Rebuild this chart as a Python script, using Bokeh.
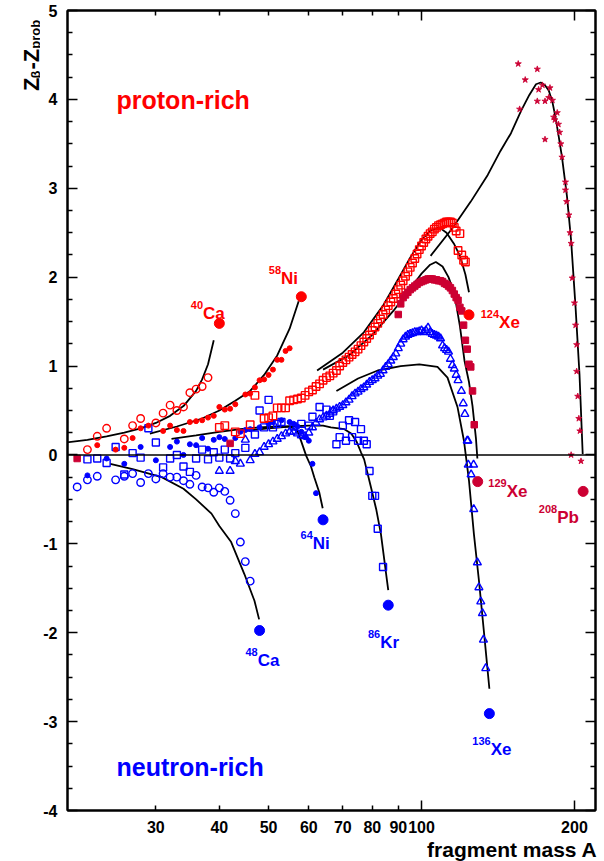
import math
from bokeh.plotting import figure
from bokeh.layouts import row
from bokeh.models import Range1d, LogAxis, LinearAxis, FixedTicker, Span, Title
from bokeh.embed import file_html
from bokeh.resources import INLINE
from bokeh.core.properties import value

RED = "#ff0000"
BLUE = "#0000ff"
CRIM = "#cc0033"
FONT = "Liberation Sans"

# ---------------- data: Z_beta - Z_prob versus fragment mass A ----------------
# 40Ca (open red circles)
ca40_A = [22, 23, 24, 26, 27, 28, 30, 31, 32, 33, 34, 35, 36, 37, 38]
ca40_dz = [0.06, 0.21, 0.30, 0.18, 0.33, 0.41, 0.36, 0.47, 0.56, 0.50, 0.54, 0.70, 0.74, 0.77, 0.87]

# 48Ca (open blue circles)
ca48_A = [21, 22, 23, 25, 26, 27, 28, 29, 30, 31, 32, 33, 34, 35, 36, 37, 38, 39, 40, 41, 42, 43, 44, 45, 46]
ca48_dz = [-0.36, -0.28, -0.24, -0.28, -0.24, -0.21, -0.31, -0.21, -0.27, -0.21, -0.25, -0.25, -0.29,
           -0.33, -0.23, -0.36, -0.37, -0.42, -0.37, -0.41, -0.51, -0.66, -0.98, -1.20, -1.42]

# 58Ni (small filled red circles)
ni58_A = [23, 25, 26, 27, 28, 29, 31, 32, 33, 34, 35, 36, 37, 38, 39, 40, 41, 42, 43, 45, 46, 47, 48,
          49, 50, 51, 52, 53, 54, 55]
ni58_dz = [0.11, 0.06, 0.08, 0.19, 0.30, 0.33, 0.27, 0.33, 0.28, 0.27, 0.37, 0.38, 0.39, 0.42, 0.44,
           0.54, 0.51, 0.52, 0.57, 0.68, 0.69, 0.76, 0.84, 0.85, 0.90, 0.96, 1.07, 1.07, 1.17, 1.20]

# 64Ni (small filled blue circles)
ni64_A = [22, 24, 26, 28, 30, 32, 33, 34, 35, 36, 37, 38, 39, 40, 41, 43, 44, 45, 46, 48, 50, 51, 53,
          55, 56, 57, 58, 59, 60, 61, 62]
ni64_dz = [-0.23, -0.04, -0.10, 0.09, -0.06, 0.09, 0.15, 0.00, 0.12, 0.11, 0.19, 0.07, 0.17, 0.20,
           0.18, 0.19, 0.26, 0.28, 0.29, 0.31, 0.35, 0.37, 0.39, 0.37, 0.35, 0.32, 0.26, 0.20, 0.16,
           -0.10, -0.43]

# 86Kr (open blue squares)
kr86_A = [22, 23, 24, 25, 26, 27, 28, 29, 30, 31, 32, 33, 34, 35, 36, 37, 38, 39, 40, 41, 42, 43, 45,
          47, 48, 49, 50, 51, 52, 53, 56, 58, 60, 61, 63, 65, 66, 67, 68, 69, 70, 71, 72, 73, 74, 75,
          76, 77, 78, 79, 80, 81, 82, 84]
kr86_dz = [-0.05, -0.04, -0.09, 0.09, -0.22, 0.02, -0.03, 0.30, 0.14, -0.14, -0.04, 0.00, -0.13,
           -0.19, -0.04, 0.06, -0.05, 0.03, -0.03, 0.06, -0.04, 0.02, 0.08, 0.23, 0.50, 0.31, 0.62,
           0.31, 0.35, 0.37, 0.32, 0.35, 0.33, 0.43, 0.54, 0.51, 0.44, 0.49, 0.12, 0.20, 0.33, 0.16,
           0.39, 0.20, 0.37, 0.16, 0.29, 0.16, 0.12, -0.18, -0.46, -0.46, -0.83, -1.26]

# 124Xe (open red squares)
xe124_A = [40, 41, 43, 44, 46, 47] + list(range(49, 123))
xe124_dz = [0.31, 0.33, 0.26, 0.24, 0.34, 0.67,
            0.41, 0.42, 0.44, 0.53, 0.53, 0.53, 0.61, 0.62, 0.63, 0.64, 0.67, 0.71, 0.73, 0.77,
            0.80, 0.84, 0.87, 0.89, 0.92, 0.95, 1.00, 1.04, 1.07, 1.10, 1.13, 1.16, 1.19, 1.23,
            1.27, 1.31, 1.35, 1.40, 1.44, 1.48, 1.53, 1.58, 1.63, 1.68, 1.72, 1.76, 1.81, 1.86,
            1.91, 1.96, 2.01, 2.06, 2.11, 2.16, 2.21, 2.26, 2.31, 2.35, 2.39, 2.43, 2.46, 2.49,
            2.51, 2.54, 2.56, 2.58, 2.59, 2.60, 2.61, 2.62, 2.62, 2.62, 2.61, 2.56, 2.52, 2.30,
            2.49, 2.25, 2.19, 2.17]

# 129Xe (filled crimson squares)
xe129_A = [21, 42] + list(range(90, 128))
xe129_dz = [-0.04, 0.13,
            1.58, 1.70, 1.77, 1.80, 1.83, 1.86, 1.88, 1.90, 1.92, 1.94, 1.95, 1.96, 1.97, 1.98,
            1.98, 1.98, 1.97, 1.97, 1.96, 1.96, 1.95, 1.93, 1.92, 1.90, 1.88, 1.85, 1.81, 1.77,
            1.74, 1.66, 1.62, 1.46, 1.29, 1.19, 1.02, 0.99, 0.72, 0.34]

# 136Xe (open blue triangles)
xe136_A = [40, 42, 43, 44, 45, 46, 47, 48, 49, 50, 51, 52, 53, 54, 55, 56, 57, 58, 59, 60, 61, 62,
           63, 64, 65, 66, 67, 68, 69, 70, 71, 72, 73, 74, 75, 76, 77, 78, 79, 80, 81, 82, 83, 84,
           85, 86, 87, 88, 89, 90, 91, 92, 93, 94, 95, 96, 97, 98, 99, 100, 101, 102, 103, 104,
           105, 106, 107, 108, 109, 110, 111, 112, 113, 114, 115, 116, 117, 118,
           119.8, 120.8, 121.7, 123.0, 123.4, 123.6, 126.6, 125.2, 126.7, 128.8, 129.7, 130.8,
           131.8, 132.4, 133.8]
xe136_dz = [-0.18, -0.18, -0.07, -0.10, 0.17, -0.06, 0.01, 0.03, 0.09, 0.12, 0.15, 0.18, 0.21,
            0.24, 0.26, 0.26, 0.24, 0.22, 0.21, 0.25, 0.31, 0.36, 0.40, 0.42, 0.44, 0.46, 0.50,
            0.52, 0.54, 0.56, 0.59, 0.62, 0.66, 0.69, 0.71, 0.74, 0.76, 0.79, 0.82, 0.84, 0.86,
            0.89, 0.91, 0.95, 0.99, 1.02, 1.06, 1.10, 1.14, 1.20, 1.25, 1.30, 1.33, 1.35, 1.36,
            1.37, 1.38, 1.38, 1.39, 1.40, 1.38, 1.40, 1.43, 1.38, 1.36, 1.35, 1.34, 1.33, 1.31,
            1.23, 1.20, 1.18, 1.16, 1.08, 1.01, 0.97, 0.90, 0.84,
            0.72, 0.58, 0.46, 0.16, 0.16, -0.11, -0.11, -0.22, -0.61, -1.21, -1.49, -1.65,
            -1.78, -2.08, -2.40]

# 208Pb (crimson stars)
pb208_A = [155, 169, 160, 156, 170, 173, 179, 169, 175, 178, 181, 175, 182, 183, 185, 186, 187,
           188, 189, 192, 192, 193, 195, 196, 197, 198, 200, 201, 202, 202, 203, 204, 205, 197, 206]
pb208_dz = [4.40, 4.34, 4.22, 3.89, 4.11, 4.16, 4.13, 3.98, 3.98, 4.02, 3.99, 3.55, 3.80, 3.77,
            3.85, 3.72, 3.63, 3.50, 3.35, 3.07, 2.98, 2.85, 2.70, 2.50, 2.38, 1.99, 1.71, 1.46,
            1.24, 0.94, 0.66, 0.41, 0.27, 0.00, -0.07]

# model curves (black lines)
c_ca40_A = [20, 22, 24, 26, 28, 30, 32, 34, 36, 37, 38, 39]
c_ca40_dz = [0.14, 0.17, 0.21, 0.25, 0.30, 0.36, 0.44, 0.55, 0.72, 0.85, 1.02, 1.29]
c_ni58_A = [29.2, 33, 37, 40, 43, 46, 49, 52, 55, 57.3]
c_ni58_dz = [0.24, 0.32, 0.41, 0.50, 0.61, 0.72, 0.90, 1.12, 1.42, 1.73]
c_ca48_A = [24.4, 27, 30.8, 34, 36, 38.6, 40, 42.2, 44.8, 46.9, 47.9]
c_ca48_dz = [-0.10, -0.16, -0.25, -0.38, -0.50, -0.66, -0.80, -0.98, -1.34, -1.64, -1.85]
c_ni64_A = [32.2, 36, 40, 44, 48, 52, 55, 57, 58, 59.3, 60.6, 61.5, 62.9, 63.9]
c_ni64_dz = [0.18, 0.22, 0.26, 0.29, 0.31, 0.32, 0.32, 0.27, 0.15, -0.01, -0.13, -0.25, -0.42, -0.60]
c_kr86_A = [45, 50, 55, 60, 64, 66.3, 70.5, 72.7, 74.5, 76, 77.1, 79.5, 81.5, 83.2, 85.5, 86]
c_kr86_dz = [0.27, 0.30, 0.32, 0.33, 0.33, 0.31, 0.29, 0.24, 0.15, 0.03, -0.05, -0.36, -0.62,
             -0.89, -1.41, -1.52]
c_xe124_A = [62.3, 70, 77, 84, 90, 95, 100, 104, 108.3, 112, 116, 119, 122, 124]
c_xe124_dz = [0.95, 1.15, 1.38, 1.68, 1.98, 2.22, 2.42, 2.52, 2.56, 2.50, 2.37, 2.24, 2.03, 1.83]
c_xe129_A = [64, 72, 80, 88, 95, 100, 104, 106.7, 110, 113, 116, 119, 121.5, 124, 126, 128, 128.8]
c_xe129_dz = [0.96, 1.12, 1.35, 1.62, 1.87, 2.04, 2.14, 2.17, 2.12, 2.00, 1.82, 1.45, 1.06, 0.82,
              0.55, 0.18, -0.04]
c_xe136_A = [68, 75, 82, 91, 99, 107.5, 112.5, 117.7, 121.2, 124, 126.8, 129.7, 133, 136]
c_xe136_dz = [0.72, 0.86, 0.95, 1.00, 1.02, 0.99, 0.87, 0.54, 0.16, -0.29, -0.89, -1.41, -2.05, -2.63]
c_pb208_A = [104.2, 115, 125, 135, 143, 150, 157, 163, 168, 171.6, 175, 178, 181, 183.5, 186, 189,
             193.4, 197, 201, 204.6, 207.6]
c_pb208_dz = [2.24, 2.55, 2.85, 3.15, 3.42, 3.62, 3.87, 4.05, 4.17, 4.19, 4.16, 4.10, 3.97, 3.80,
              3.60, 3.35, 2.90, 2.41, 1.66, 0.91, 0.01]

# projectiles (big dots) and their labels
proj_A = [40, 58, 124, 129, 208, 64, 48, 86, 136]
proj_dz = [1.48, 1.78, 1.576, -0.30, -0.41, -0.73, -1.975, -1.69, -2.91]
proj_mass = ["40", "58", "124", "129", "208", "64", "48", "86", "136"]
proj_elem = ["Ca", "Ni", "Xe", "Xe", "Pb", "Ni", "Ca", "Kr", "Xe"]
proj_color = [RED, RED, RED, CRIM, CRIM, BLUE, BLUE, BLUE, BLUE]
lab_A = [37.15, 52.9, 142.1, 147.1, 184.9, 61.1, 47.6, 82.9, 136.8]
lab_dz = [1.59, 1.99, 1.49, -0.41, -0.70, -1.00, -2.31, -2.11, -3.31]

x_labels = [30, 40, 50, 60, 70, 80, 90, 100, 200]
x_major = [100, 200]
x_minor = [30, 40, 50, 60, 70, 80, 90]
y_ticks = [-4, -3, -2, -1, 0, 1, 2, 3, 4, 5]
y_minor = [v / 4 for v in range(-16, 21) if v % 4 != 0]

# ---------------- main figure ----------------
LEFT_W = 40
H = 861
p = figure(width=604 - LEFT_W, height=H, x_axis_type="log",
           x_range=Range1d(20.1, 220), y_range=Range1d(-4, 5),
           output_backend="svg", toolbar_location=None,
           min_border_left=66 - LEFT_W, min_border_right=9, min_border_top=10,
           min_border_bottom=H - 810)
p.xgrid.visible = False
p.ygrid.visible = False
p.outline_line_color = "black"
p.outline_line_width = 2
p.background_fill_color = "white"
p.border_fill_color = "white"


def tick_axis(ax, major, minor, major_len, minor_len):
    ax.ticker = FixedTicker(ticks=major, minor_ticks=minor)
    ax.axis_line_width = 2
    ax.axis_line_color = "black"
    ax.major_tick_in = major_len
    ax.major_tick_out = 0
    ax.minor_tick_in = minor_len
    ax.minor_tick_out = 0
    ax.major_tick_line_width = 1.5
    ax.minor_tick_line_width = 1.5
    ax.major_label_text_color = None
    ax.major_label_text_font_size = "1px"
    ax.major_label_standoff = 0


def label_style(ax, ticks, standoff):
    ax.major_label_overrides = {t: ("%g" % t) for t in ticks}
    ax.major_label_text_font = FONT
    ax.major_label_text_font_style = "bold"
    ax.major_label_text_font_size = "16px"
    ax.major_label_text_color = "black"
    ax.major_label_standoff = standoff


# bottom: tick axis at the frame, then a label-only axis just below it
xb = p.xaxis[0]
tick_axis(xb, x_major, x_minor, 10, 5)
xlab = LogAxis(ticker=FixedTicker(ticks=x_labels, minor_ticks=[]))
xlab.axis_line_color = None
xlab.major_tick_in = 0
xlab.major_tick_out = 0
xlab.minor_tick_in = 0
xlab.minor_tick_out = 0
label_style(xlab, x_labels, 10)
p.add_layout(xlab, "below")
p.add_layout(Title(text="fragment mass A", align="right", vertical_align="bottom", offset=-2,
                   standoff=0, text_font=FONT, text_font_style="bold", text_font_size="21px",
                   text_color="black"), "below")

# left axis with labels
yl = p.yaxis[0]
tick_axis(yl, y_ticks, y_minor, 10, 5)
label_style(yl, y_ticks, 10)

# mirror axes
xt = LogAxis()
tick_axis(xt, x_major, x_minor, 10, 5)
p.add_layout(xt, "above")
yr = LinearAxis()
tick_axis(yr, y_ticks, y_minor, 10, 5)
p.add_layout(yr, "right")

p.add_layout(Span(location=0, dimension="width", line_color="black", line_width=1.6))

# curves
for cx, cy in [(c_ca40_A, c_ca40_dz), (c_ni58_A, c_ni58_dz), (c_ca48_A, c_ca48_dz),
               (c_ni64_A, c_ni64_dz), (c_kr86_A, c_kr86_dz), (c_xe124_A, c_xe124_dz),
               (c_xe129_A, c_xe129_dz), (c_xe136_A, c_xe136_dz), (c_pb208_A, c_pb208_dz)]:
    p.line(cx, cy, line_color="black", line_width=1.8)

# data points
p.scatter(kr86_A, kr86_dz, marker="square", size=7, fill_color=None, line_color=BLUE, line_width=1.4)
p.scatter(xe136_A, xe136_dz, marker="triangle", size=8, fill_color=None, line_color=BLUE, line_width=1.4)
p.scatter(ca48_A, ca48_dz, marker="circle", size=7.5, fill_color=None, line_color=BLUE, line_width=1.4)
p.scatter(ni64_A, ni64_dz, marker="circle", size=5, fill_color=BLUE, line_color=BLUE)
p.scatter(xe124_A, xe124_dz, marker="square", size=7.5, fill_color=None, line_color=RED, line_width=1.4)
p.scatter(xe129_A, xe129_dz, marker="square", size=6.5, fill_color=CRIM, line_color=CRIM)
p.scatter(ca40_A, ca40_dz, marker="circle", size=7.5, fill_color=None, line_color=RED, line_width=1.4)
p.scatter(ni58_A, ni58_dz, marker="circle", size=5, fill_color=RED, line_color=RED)
p.scatter(pb208_A, pb208_dz, marker="star", size=6.5, fill_color=CRIM, line_color=CRIM, line_width=0.8)

# projectiles
p.scatter(proj_A, proj_dz, marker="circle", size=10, fill_color=proj_color, line_color=proj_color)
p.text(lab_A, lab_dz, text=proj_elem, text_color=proj_color, text_font=value(FONT),
       text_font_style="bold", text_font_size="17px", text_align="left", text_baseline="alphabetic")
p.text(lab_A, lab_dz, text=proj_mass, text_color=proj_color, text_font=value(FONT),
       text_font_style="bold", text_font_size="11px", text_align="right", text_baseline="alphabetic",
       y_offset=-8.5)

p.text([25.1], [3.99], text=["proton-rich"], text_color=RED, text_font=value(FONT),
       text_font_style="bold", text_font_size="25px", text_align="left", text_baseline="alphabetic")
p.text([25.1], [-3.513], text=["neutron-rich"], text_color=BLUE, text_font=value(FONT),
       text_font_style="bold", text_font_size="25px", text_align="left", text_baseline="alphabetic")

# ---------------- y-axis title strip (pixel coordinates, y measured from its bottom) ----------------
# each piece is anchored at its upper end (text runs upwards, right-aligned)
ty = figure(width=LEFT_W, height=H, x_range=Range1d(0, LEFT_W), y_range=Range1d(0, H),
            output_backend="svg", toolbar_location=None, min_border=0,
            x_axis_location=None, y_axis_location=None)
ty.xgrid.visible = False
ty.ygrid.visible = False
ty.outline_line_color = None
title_parts = ["Z", "\u03b2", "-", "Z", "prob"]
title_x = [31, 34.5, 31, 31, 34.5]
title_top = [72.1, 64.6, 55.7, 41.1, 10.1]
title_size = ["22px", "13px", "22px", "22px", "13px"]
for t, xx, yy, fs in zip(title_parts, title_x, title_top, title_size):
    ty.text([xx], [H - yy], text=[t], angle=math.pi / 2, text_color="black", text_font=value(FONT),
            text_font_style="bold", text_font_size=fs, text_align="right", text_baseline="alphabetic")

layout = row(ty, p, spacing=0)
open("out.html", "w").write(file_html(layout, INLINE))
